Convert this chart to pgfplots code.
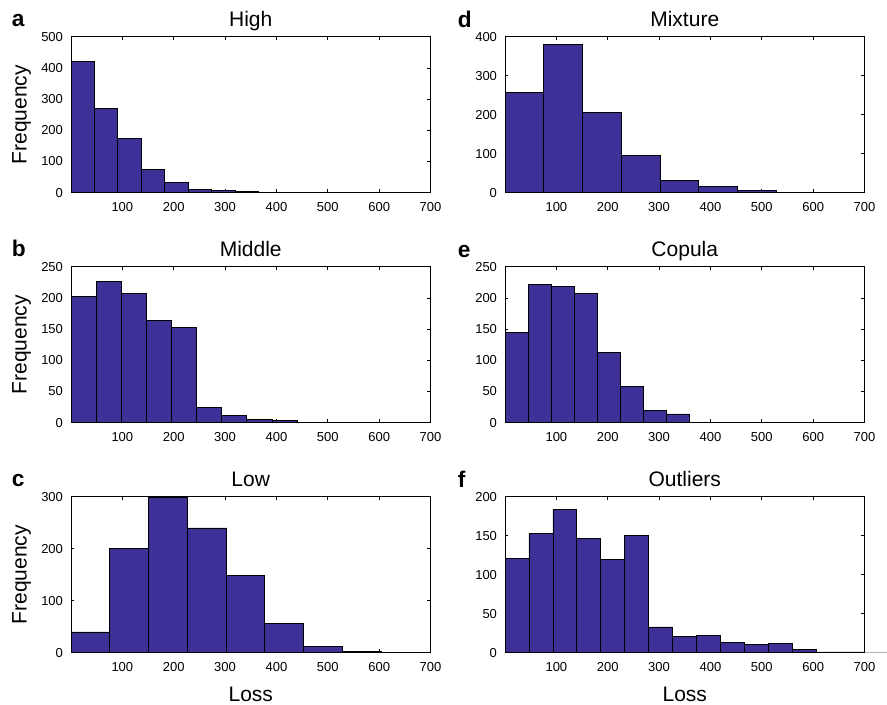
\documentclass[border=0pt]{standalone}
\usepackage{fontspec}
\setmainfont{Liberation Sans}
\usepackage{pgfplots}
\pgfplotsset{compat=1.18}
\definecolor{barblue}{RGB}{61,49,151}
\pgfplotsset{
  panel/.style={
    width=269.625pt, height=117pt, scale only axis,
    anchor=south west,
    xmin=0, xmax=700, ymin=0,
    xtick={100,200,...,700},
    tick align=inside,
    major tick length=2.5pt,
    axis line style={line width=0.7pt, black},
    tick style={line width=0.6pt, black},
    /pgf/number format/assume math mode=true,
    ticklabel style={font=\fontsize{9.75}{11}\selectfont},
    xticklabel style={anchor=base, yshift=-14.25pt},
    yticklabel style={xshift=-2.5pt},
    title style={font=\fontsize{15.75}{18}\selectfont, at={(axis description cs:0.5,1.0128)}, anchor=base},
    xlabel style={font=\fontsize{15.75}{18}\selectfont, at={(axis description cs:0.5,-0.31)}, anchor=base},
    ylabel style={font=\fontsize{15.75}{18}\selectfont, at={(axis description cs:-0.1232,0.5)}, anchor=base},
    clip mode=individual,
  },
  hbar/.style={ybar interval, fill=barblue, draw=black, line width=0.6pt},
}
\tikzset{letter/.style={font=\fontsize{17}{20}\selectfont\bfseries, anchor=base west, inner sep=0pt}}
\begin{document}
\begin{tikzpicture}
\useasboundingbox (0,0) rectangle (665.25pt,-528pt);
% a High
\begin{axis}[panel, at={(53.25pt,-144.525pt)}, ymax=500, ytick={0,100,...,500}, title={High}, ylabel={Frequency}]
\addplot[hbar] coordinates {(0,422) (45.6,270) (91.2,175) (136.8,75) (182.4,33) (228,11) (273.6,6) (319.2,3) (364.8,2) (410.4,1) (456,0)};
\node[letter] at (axis description cs:-0.165,1.064) {a};
\end{axis}
% b Middle
\begin{axis}[panel, at={(53.25pt,-317.025pt)}, ymax=250, ytick={0,50,...,250}, title={Middle}, ylabel={Frequency}]
\addplot[hbar] coordinates {(0,203) (48.9,226) (97.8,207) (146.7,164) (195.6,153) (244.5,25) (293.4,12) (342.3,5) (391.2,4) (440.1,1) (489,0)};
\node[letter] at (axis description cs:-0.165,1.064) {b};
\end{axis}
% c Low
\begin{axis}[panel, at={(53.25pt,-489.525pt)}, ymax=300, ytick={0,100,...,300}, title={Low}, ylabel={Frequency}, xlabel={Loss}]
\addplot[hbar] coordinates {(0,40) (75.5,200) (151,299) (226.5,240) (302,148) (377.5,57) (453,12) (528.5,3) (604,1) (679.5,0)};
\node[letter] at (axis description cs:-0.165,1.064) {c};
\end{axis}
% d Mixture
\begin{axis}[panel, at={(378.75pt,-144.525pt)}, ymax=400, ytick={0,100,...,400}, title={Mixture}]
\addplot[hbar] coordinates {(0,257) (75.5,380) (151,206) (226.5,96) (302,31) (377.5,16) (453,6) (528.5,1) (604,1) (679.5,0)};
\node[letter] at (axis description cs:-0.1316,1.06) {d};
\end{axis}
% e Copula
\begin{axis}[panel, at={(378.75pt,-317.025pt)}, ymax=250, ytick={0,50,...,250}, title={Copula}]
\addplot[hbar] coordinates {(0,145) (44.95,221) (89.9,219) (134.85,207) (179.8,113) (224.75,58) (269.7,20) (314.65,14) (359.6,1) (404.55,1) (449.5,0)};
\node[letter] at (axis description cs:-0.1316,1.06) {e};
\end{axis}
% f Outliers
\begin{axis}[panel, at={(378.75pt,-489.525pt)}, ymax=200, ytick={0,50,...,200}, title={Outliers}, xlabel={Loss}, clip=false]
\addplot[hbar] coordinates {(0,121) (46.65,153) (93.3,184) (139.95,147) (186.6,120) (233.25,150) (279.9,33) (326.55,21) (373.2,22) (419.85,13) (466.5,11) (513.15,12) (559.8,4) (606.45,1) (653.1,1) (699.75,0)};
\addplot[gray!60, line width=0.6pt, forget plot] coordinates {(700,0) (745,0)};
\node[letter] at (axis description cs:-0.1316,1.06) {f};
\end{axis}
\end{tikzpicture}
\end{document}
